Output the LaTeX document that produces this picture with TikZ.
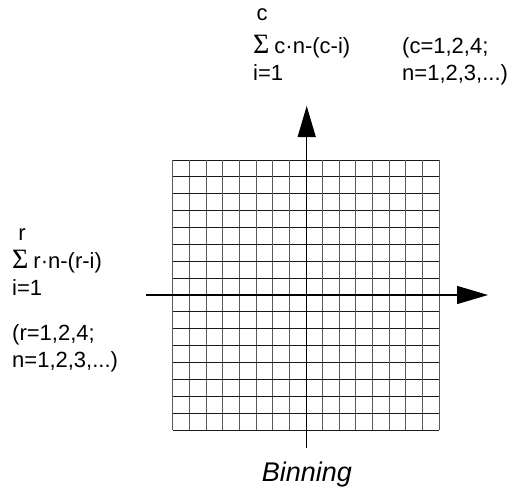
\documentclass[tikz,border=0pt]{standalone}
\usepackage{fontspec}
\setmainfont{Liberation Sans}
\newfontfamily\sigmafont{Liberation Serif}
\usetikzlibrary{arrows.meta}
\tikzset{
  lbl/.style={anchor=base west, inner sep=0pt, font=\fontsize{22}{22}\selectfont},
  lim/.style={anchor=base, inner sep=0pt, font=\fontsize{22}{22}\selectfont},
  vgrid/.style={line width=1pt, black!65},
  hgrid/.style={line width=0.9pt, black!90},
  axarrow/.style={-{Triangle[length=31pt,width=18pt]}, line width=1.3pt}
}
\newcommand{\sig}{{\sigmafont\fontsize{28}{28}\selectfont\char"03A3}\hspace{5pt}}
\begin{document}
\begin{tikzpicture}[x=1pt,y=-1pt]
\useasboundingbox (0,0) rectangle (512,490);
% grid
\foreach \i in {0,...,16} {
  \draw[vgrid] ({172.7+\i*16.6625},160) -- ({172.7+\i*16.6625},430);
  \draw[hgrid] (172.7,{160+\i*16.875}) -- (439.3,{160+\i*16.875});
}
% axes
\coordinate (hl) at (146,295);
\coordinate (hr) at (488,295);
\coordinate (vb) at (306.7,448);
\coordinate (vt) at (306.7,106);
\draw[axarrow] (hl) -- (hr);
\draw[axarrow] (vb) -- (vt);
% top formula
\node[lim] (tc) at (262,20) {c};
\node[lbl] (ts) at (253,53) {\sig c·n-(c-i)};
\node[lbl] (ti) at (253,80) {i=1};
\node[lbl] (tp1) at (402,53) {(c=1,2,4;};
\node[lbl] (tp2) at (402,80) {n=1,2,3,...)};
% left formula
\node[lim] (lr) at (22,240) {r};
\node[lbl] (ls) at (12,268) {\sig r·n-(r-i)};
\node[lbl] (li) at (12,295) {i=1};
\node[lbl] (lp1) at (12,340) {(r=1,2,4;};
\node[lbl] (lp2) at (12,367) {n=1,2,3,...)};
% caption
\node[font=\fontsize{27}{27}\selectfont\itshape, inner sep=0pt, anchor=base] (cap) at (307,481) {Binning};
\end{tikzpicture}
\end{document}
